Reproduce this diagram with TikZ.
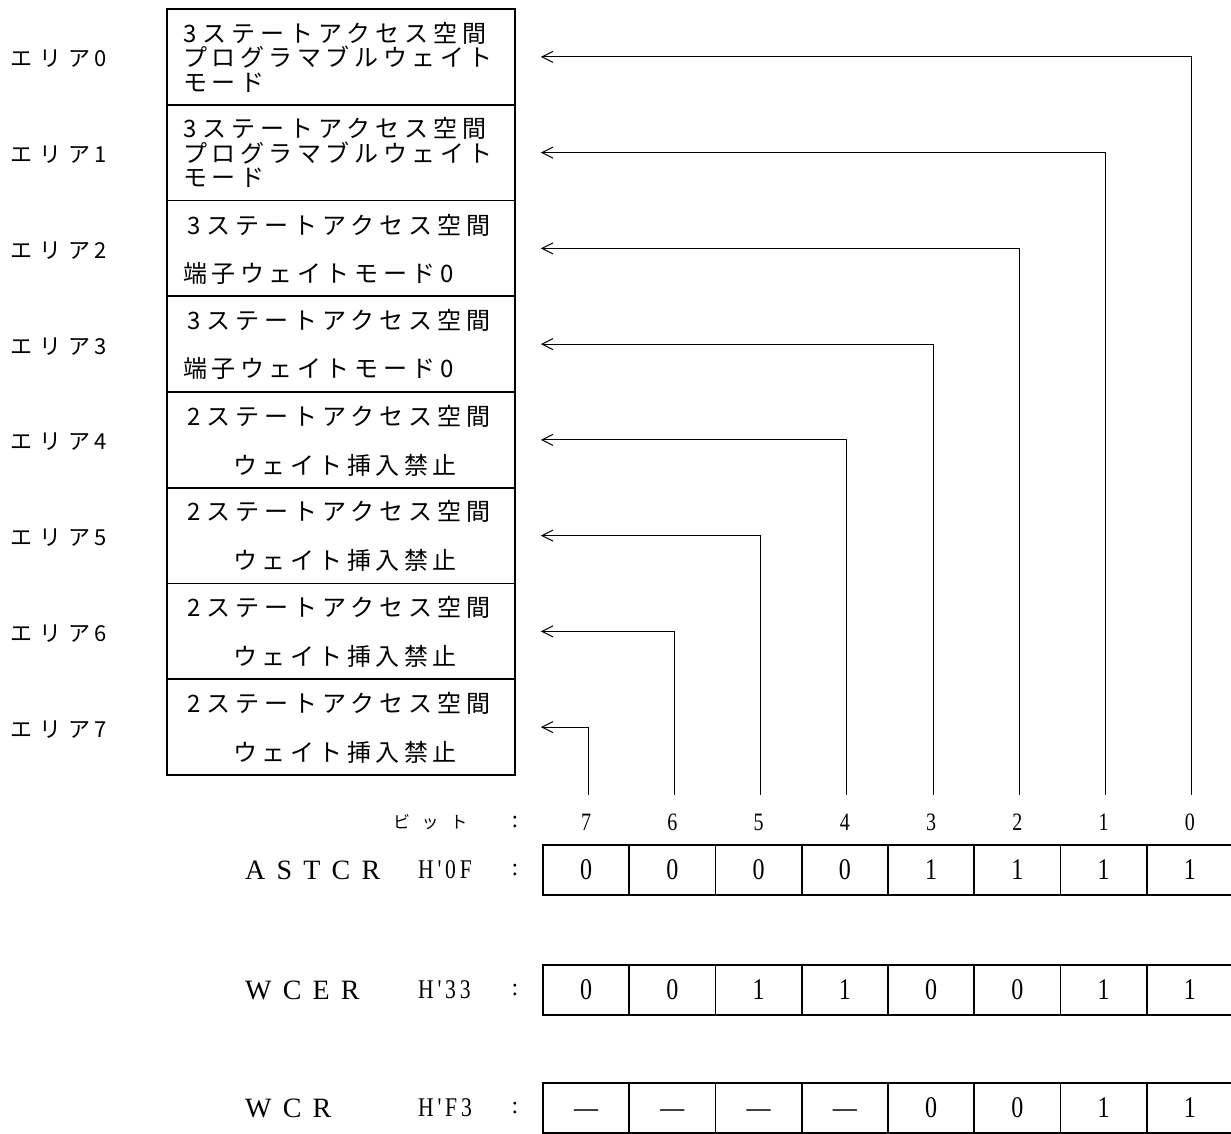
\documentclass[tikz,border=0pt]{standalone}
\usepackage{fontspec}
\setmainfont{Liberation Serif}
\newfontfamily\jpA[LetterSpace=21]{Noto Sans CJK JP}
\newfontfamily\jpB[LetterSpace=19]{Noto Sans CJK JP}
\newfontfamily\jpL[LetterSpace=32]{Noto Sans CJK JP}
\newfontfamily\jpS[LetterSpace=68]{Noto Sans CJK JP}
\newfontfamily\regf[LetterSpace=40]{Liberation Serif}
\newfontfamily\hexf[LetterSpace=14,FakeStretch=0.8]{Liberation Serif}
\newfontfamily\digf[FakeStretch=0.8]{Liberation Serif}
\newcommand\sepdig[2]{\hbox{#1}\hskip 6pt\hbox{#2}}
\usetikzlibrary{arrows.meta}
\begin{document}
\begin{tikzpicture}[x=1pt,y=-1pt,
  areabox/.style={draw,line width=1.7pt,minimum width=348pt,minimum height=95.75pt,inner sep=0pt},
  cell/.style={draw,line width=1.7pt,minimum width=86.25pt,minimum height=50pt,inner sep=0pt,font=\digf\fontsize{30}{30}\selectfont},
  dashtxt/.style={inner sep=0pt,yshift=-6pt,font=\digf\fontsize{30}{30}\selectfont},
  jl/.style={anchor=west,inner sep=0pt},
  bigjp/.style={font=\fontsize{24}{24.5}\selectfont},
  arealbl/.style={jl,font=\jpL\fontsize{22}{22}\selectfont},
  reglbl/.style={jl,font=\regf\fontsize{28}{28}\selectfont},
  hexlbl/.style={jl,font=\hexf\fontsize{27}{27}\selectfont},
  colon/.style={inner sep=0pt,font=\fontsize{24}{24}\selectfont},
  bitnum/.style={inner sep=0pt,font=\digf\fontsize{25}{25}\selectfont},
  arr/.style={line width=1pt,-{Straight Barb[length=11pt,width=11pt,line width=1pt]}}]
\useasboundingbox (0,0) rectangle (1231,1133);

% area boxes and labels
\foreach \i in {0,...,7} {
  \node[areabox] (a\i) at (341,{56.875+95.75*\i}) {};
  \node[arealbl] (l\i) at (10,{58.875+95.75*\i}) {\hbox{エリア}\hskip 4pt\hbox{\i}};
}

% box texts
\node[jl,bigjp,align=left] (t0) at (183,57) {{\jpA\sepdig{3}{ステートアクセス空間}}\\{\jpB プログラマブルウェイト}\\{\jpB モード}};
\node[jl,bigjp,align=left] (t1) at (183,152.75) {{\jpA\sepdig{3}{ステートアクセス空間}}\\{\jpB プログラマブルウェイト}\\{\jpB モード}};
\node[jl,bigjp] (t2a) at (187,225) {\jpA\sepdig{3}{ステートアクセス空間}};
\node[jl,bigjp] (t2b) at (183,273) {\jpB 端子ウェイトモード0};
\node[jl,bigjp] (t3a) at (187,320.75) {\jpA\sepdig{3}{ステートアクセス空間}};
\node[jl,bigjp] (t3b) at (183,368.75) {\jpB 端子ウェイトモード0};
\foreach \i/\top in {4/392,5/487.75,6/583.5,7/679.25} {
  \node[jl,bigjp] (t\i a) at (187,{\top+24}) {\jpA\sepdig{2}{ステートアクセス空間}};
  \node[inner sep=0pt,bigjp] (t\i b) at (345,{\top+73}) {\jpB ウェイト挿入禁止};
}

% bit header
\node[jl,font=\jpS\fontsize{17}{17}\selectfont] (bit) at (393,822) {ビット};
\node[colon] (cb) at (515,822) {:};
\foreach \b in {0,...,7} {
  \node[bitnum] (n\b) at ({543+86.25*(7.5-\b)},822) {\b};
  \coordinate (v\b) at ({545+86.25*(7.5-\b)},795);
  \coordinate (h\b) at ([xshift=25pt]a\b.east);
  \draw[arr] (v\b) |- (h\b);
}

% registers
\node[reglbl] (rA) at (245,870) {ASTCR};
\node[hexlbl] (xA) at (418,870) {H'0F};
\node[colon] (cA) at (515,870) {:};
\foreach \v [count=\k from 0] in {0,0,0,0,1,1,1,1}
  \node[cell] (pA\k) at ({543+86.25*(\k+0.5)},870) {\v};

\node[reglbl] (rB) at (245,990) {WCER};
\node[hexlbl] (xB) at (418,990) {H'33};
\node[colon] (cB) at (515,990) {:};
\foreach \v [count=\k from 0] in {0,0,1,1,0,0,1,1}
  \node[cell] (pB\k) at ({543+86.25*(\k+0.5)},990) {\v};

\node[reglbl] (rC) at (245,1108) {WCR};
\node[hexlbl] (xC) at (418,1108) {H'F3};
\node[colon] (cC) at (515,1108) {:};
\foreach \k in {0,...,3} {
  \node[cell] (pC\k) at ({543+86.25*(\k+0.5)},1108) {};
  \node[dashtxt] (dC\k) at (pC\k.center) {—};
}
\foreach \v [count=\k from 4] in {0,0,1,1}
  \node[cell] (pC\k) at ({543+86.25*(\k+0.5)},1108) {\v};
\end{tikzpicture}
\end{document}
